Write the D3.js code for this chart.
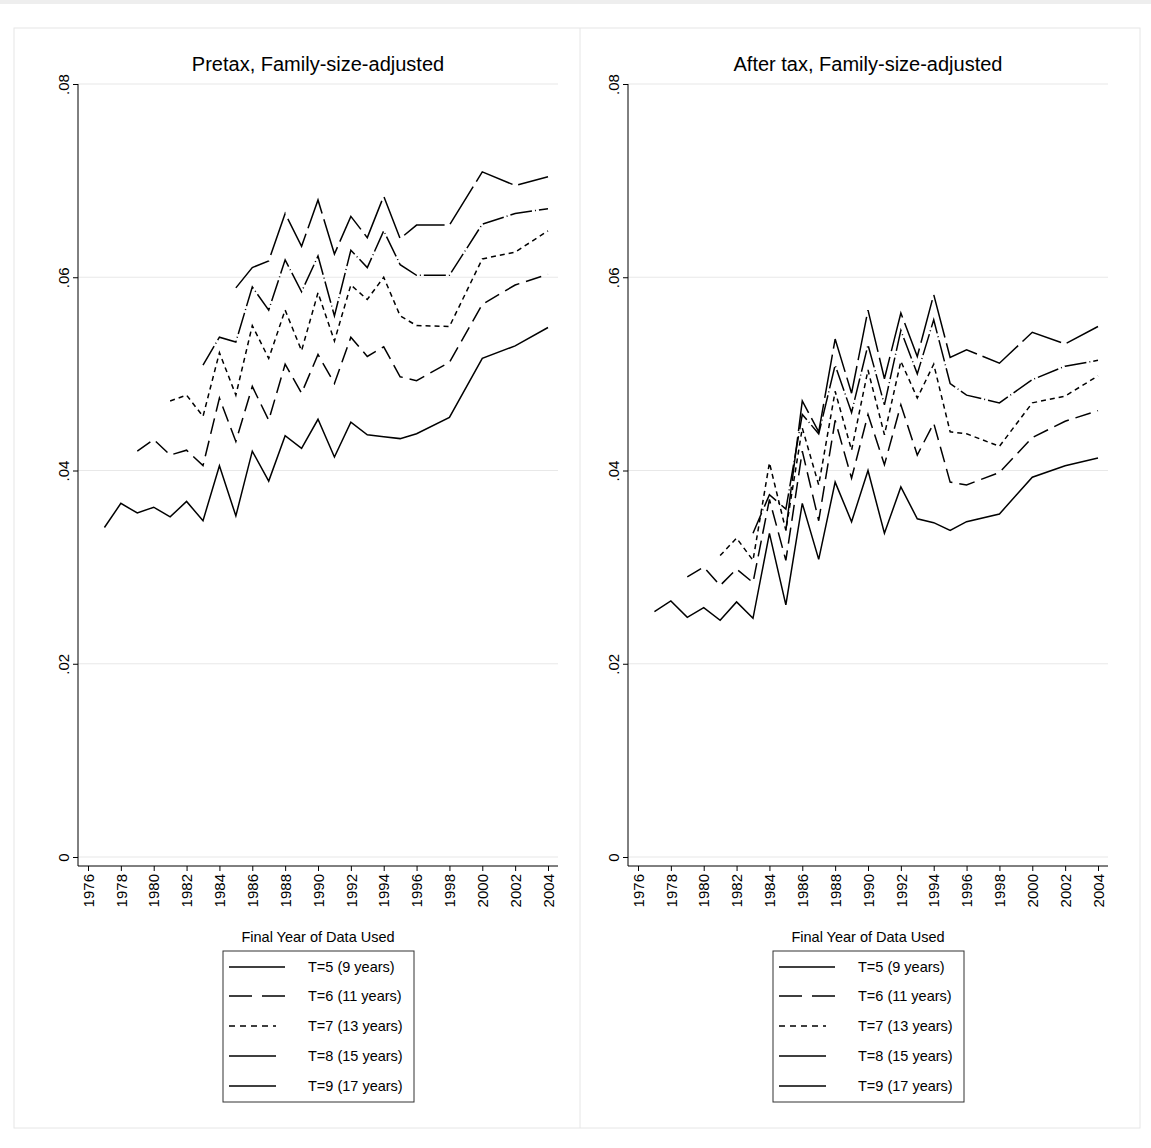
<!DOCTYPE html>
<html><head><meta charset="utf-8">
<script src="https://cdn.jsdelivr.net/npm/d3@7"></script>
<style>body{margin:0;background:#fff}svg{font-family:"Liberation Sans",Arial,sans-serif}</style>
</head><body><svg id="c" width="1151" height="1148"></svg>
<script>
const yearsT5=[1977,1978,1979,1980,1981,1982,1983,1984,1985,1986,1987,1988,1989,1990,1991,1992,1993,1994,1995,1996,1998,2000,2002,2004];
const seriesNames=["T=5 (9 years)","T=6 (11 years)","T=7 (13 years)","T=8 (15 years)","T=9 (17 years)"];
const startYears=[1977,1979,1981,1983,1985];
const xTicks=[1976,1978,1980,1982,1984,1986,1988,1990,1992,1994,1996,1998,2000,2002,2004];
const yTicks=[0,0.02,0.04,0.06,0.08];
const yTickLabels=["0",".02",".04",".06",".08"];
const panelTitles=["Pretax, Family-size-adjusted","After tax, Family-size-adjusted"];
const pretax=[
[.0341,.0366,.0356,.0362,.0352,.0368,.0348,.0405,.0353,.0420,.0389,.0436,.0423,.0453,.0414,.0450,.0437,.0435,.0433,.0438,.0455,.0516,.0529,.0548],
[.0420,.0432,.0416,.0421,.0405,.0475,.0430,.0487,.0452,.0510,.0480,.0520,.0490,.0538,.0518,.0528,.0497,.0493,.0512,.0572,.0592,.0603],
[.0472,.0478,.0456,.0522,.0478,.0550,.0516,.0566,.0524,.0584,.0534,.0592,.0577,.0600,.0560,.0550,.0549,.0619,.0626,.0648],
[.0509,.0538,.0533,.0590,.0566,.0618,.0585,.0622,.0560,.0628,.0610,.0648,.0613,.0602,.0602,.0655,.0666,.0671],
[.0589,.0610,.0617,.0666,.0632,.0680,.0624,.0663,.0641,.0684,.0640,.0654,.0654,.0709,.0695,.0704]];
const aftertax=[
[.0254,.0265,.0248,.0258,.0245,.0264,.0247,.0335,.0261,.0366,.0308,.0388,.0347,.0400,.0335,.0383,.0350,.0346,.0338,.0347,.0355,.0393,.0405,.0413],
[.0290,.0300,.0281,.0298,.0284,.0370,.0307,.0420,.0348,.0452,.0392,.0458,.0406,.0468,.0416,.0449,.0388,.0385,.0398,.0434,.0451,.0462],
[.0312,.0330,.0307,.0408,.0338,.0444,.0385,.0482,.0421,.0504,.0437,.0513,.0475,.0510,.0440,.0438,.0425,.0470,.0477,.0498],
[.0335,.0375,.0360,.0458,.0438,.0509,.0460,.0530,.0468,.0545,.0500,.0556,.0490,.0478,.0470,.0494,.0508,.0514],
[.0338,.0472,.0440,.0536,.0480,.0566,.0495,.0563,.0518,.0582,.0517,.0525,.0511,.0543,.0531,.0549]];
const dashes=[null,"16,7","5,4","22,3,1,3","44,6"];

const svg=d3.select("#c");
svg.append("rect").attr("x",0).attr("y",0).attr("width",1151).attr("height",4).attr("fill","#eee");
svg.append("rect").attr("x",14).attr("y",28).attr("width",1126).attr("height",1100).attr("fill","none").attr("stroke","#e6e6e6");
svg.append("line").attr("x1",580).attr("x2",580).attr("y1",28).attr("y2",1128).attr("stroke","#e6e6e6");

[pretax,aftertax].forEach((data,p)=>{
  const off=p*550;
  const g=svg.append("g").attr("transform",`translate(${off},0)`);
  const x=d3.scaleLinear().domain([1976,2004]).range([88,548]);
  const y=d3.scaleLinear().domain([0,0.08]).range([857,84]);
  g.append("text").attr("x",318).attr("y",71).attr("text-anchor","middle").attr("font-size",20).text(panelTitles[p]);
  g.selectAll(".grid").data(yTicks).join("line").attr("x1",78).attr("x2",558).attr("y1",d=>y(d)).attr("y2",d=>y(d)).attr("stroke","#e8e8e8").attr("stroke-width",1.2);
  const ya=g.append("g").attr("transform","translate(78,0)").call(d3.axisLeft(y).tickValues(yTicks).tickSize(5).tickFormat((d,i)=>yTickLabels[i]));
  ya.select(".domain").attr("d",`M0,${y(0.08)}V866`);
  ya.selectAll("text").attr("font-size",15).attr("transform","rotate(-90)").attr("x",0).attr("y",-9).attr("dy",0).attr("text-anchor","middle").attr("font-family","Liberation Sans,Arial");
  const xa=g.append("g").attr("transform","translate(0,866)").call(d3.axisBottom(x).tickValues(xTicks).tickSize(5).tickFormat(d3.format("d")));
  xa.select(".domain").attr("d","M78,0H558");
  xa.selectAll("text").attr("font-size",15).attr("transform","rotate(-90)").attr("x",-8).attr("y",0).attr("dy","0.35em").attr("text-anchor","end").attr("font-family","Liberation Sans,Arial");
  const line=d3.line().x(d=>x(d[0])).y(d=>y(d[1]));
  data.forEach((vals,i)=>{
    const yrs=yearsT5.filter(yy=>yy>=startYears[i]);
    const pts=yrs.map((yy,k)=>[yy,vals[k]]);
    g.append("path").attr("d",line(pts)).attr("fill","none").attr("stroke","#000").attr("stroke-width",1.5).attr("stroke-dasharray",dashes[i]);
  });
  g.append("text").attr("x",318).attr("y",942).attr("text-anchor","middle").attr("font-size",14.5).text("Final Year of Data Used");
  g.append("rect").attr("x",223).attr("y",951).attr("width",191).attr("height",151).attr("fill","none").attr("stroke","#333").attr("stroke-width",1);
  const ly=[967,996,1026,1056,1086];
  seriesNames.forEach((n,i)=>{
    const x2=i<2?285:276;
    g.append("line").attr("x1",229).attr("x2",x2).attr("y1",ly[i]).attr("y2",ly[i]).attr("stroke","#000").attr("stroke-width",1.5).attr("stroke-dasharray",i==1?"23,10":i==2?"6,5":null);
    g.append("text").attr("x",308).attr("y",ly[i]+5).attr("font-size",14.5).text(n);
  });
});
</script></body></html>
